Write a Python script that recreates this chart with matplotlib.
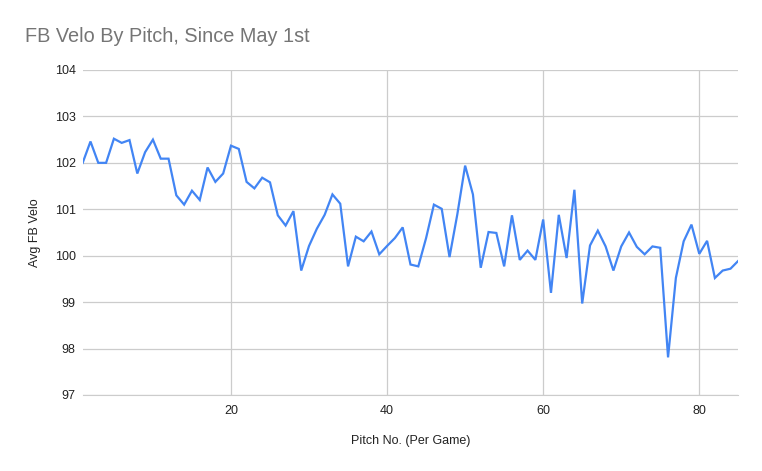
import matplotlib
matplotlib.use("Agg")
import matplotlib.pyplot as plt

# pitch number within a game, 1..85
pitch_no = list(range(1, 86))

# average fastball velocity at each pitch number
avg_velo = [
    102.0, 102.46, 102.0, 102.0, 102.52, 102.43, 102.49, 101.77, 102.23, 102.5,
    102.09, 102.09, 101.3, 101.1, 101.4, 101.2, 101.9, 101.59, 101.77, 102.37,
    102.3, 101.59, 101.45, 101.68, 101.58, 100.87, 100.65, 100.96, 99.68, 100.21,
    100.58, 100.88, 101.32, 101.12, 99.77, 100.41, 100.31, 100.52, 100.03, 100.21,
    100.38, 100.61, 99.81, 99.77, 100.38, 101.1, 101.01, 99.97, 100.89, 101.94,
    101.32, 99.74, 100.51, 100.49, 99.77, 100.87, 99.91, 100.11, 99.91, 100.78,
    99.2, 100.88, 99.95, 101.42, 98.97, 100.22, 100.54, 100.2, 99.68, 100.2,
    100.5, 100.19, 100.03, 100.2, 100.17, 97.81, 99.52, 100.31, 100.67, 100.04,
    100.32, 99.52, 99.68, 99.72, 99.89,
]

x_ticks = [20, 40, 60, 80]
y_ticks = [97, 98, 99, 100, 101, 102, 103, 104]

plt.rcParams["font.family"] = ["Liberation Sans", "DejaVu Sans"]

fig = plt.figure(figsize=(7.62, 4.71), dpi=100)
ax = fig.add_axes([0.1085, 0.1614, 0.8604, 0.690])

ax.plot(pitch_no, avg_velo, color="#4285f4", linewidth=1.6, solid_joinstyle="miter")

ax.set_xlim(1, 85)
ax.set_ylim(97, 104)
ax.set_xticks(x_ticks)
ax.set_yticks(y_ticks)
ax.grid(True, color="#cccccc", linewidth=0.9)
ax.set_axisbelow(True)
for side in ["top", "right", "left"]:
    ax.spines[side].set_visible(False)
ax.spines["bottom"].set_color("#cccccc")
ax.tick_params(length=0, labelsize=9, colors="#222222", pad=5)
ax.tick_params(axis="x", pad=7)

ax.set_xlabel("Pitch No. (Per Game)", fontsize=9, color="#222222", labelpad=13)
ax.set_ylabel("Avg FB Velo", fontsize=9, color="#222222", labelpad=10)

fig.text(25 / 762, 1 - 37 / 471, "FB Velo By Pitch, Since May 1st",
         fontsize=14.3, color="#757575", va="center", ha="left")

fig.savefig("out.png", dpi=100, facecolor="white")
